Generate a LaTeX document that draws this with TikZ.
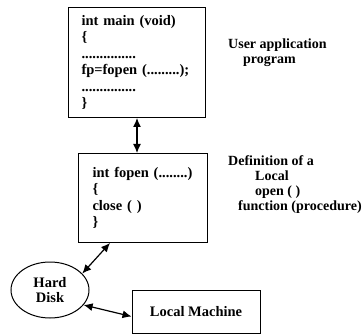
\documentclass[tikz,border=0pt]{standalone}
\usepackage{fontspec}
\setmainfont{Liberation Serif}
\usetikzlibrary{arrows.meta,shapes.geometric}

\begin{document}
\begin{tikzpicture}[x=1pt,y=-1pt,
  codebox/.style={draw,line width=1pt,align=left,anchor=north west,font=\fontsize{14.5}{16.5}\selectfont\bfseries},
  note/.style={align=left,anchor=north west,inner sep=0pt,font=\fontsize{14}{15}\selectfont\bfseries},
  link/.style={{Latex[length=9pt,width=8pt]}-{Latex[length=9pt,width=8pt]},line width=1.2pt}]
\useasboundingbox (0,0) rectangle (363,336);
% code boxes
\node[codebox,inner xsep=13pt,text width=111pt,minimum height=110pt] (main) at (68,7)
  {int main (void)\\ \{\\ ...............\\ fp=fopen (.........);\\ ...............\\ \}};
\node[codebox,inner xsep=14pt,text width=101pt,minimum height=89pt] (fopen) at (78,153)
  {int fopen (........)\\ \{\\ close ( )\\ \}};
\node[draw,line width=1pt,ellipse,minimum width=78pt,minimum height=56pt,inner sep=0pt,
  align=center,font=\fontsize{14.5}{15}\selectfont\bfseries] (hd) at (50,290) {Hard\\Disk};
\node[draw,line width=1pt,minimum width=128pt,minimum height=43pt,
  font=\fontsize{14.5}{15}\selectfont\bfseries] (lm) at (196,311.5) {Local Machine};
% side notes
\node[note] (user) at (228,39) {User application\\ \hspace*{15pt}program};
\node[note] (def) at (228,155) {Definition of a\\ \hspace*{27pt}Local\\ \hspace*{27pt}open ( )\\ \hspace*{10pt}function (procedure)};
% links
\draw[link] (main.south) -- (main.south |- fopen.north);
\draw[link] (hd.27) -- ([xshift=32pt]fopen.south west);
\draw[link] (hd.-24) -- ([yshift=-5pt]lm.west);
\end{tikzpicture}
\end{document}
